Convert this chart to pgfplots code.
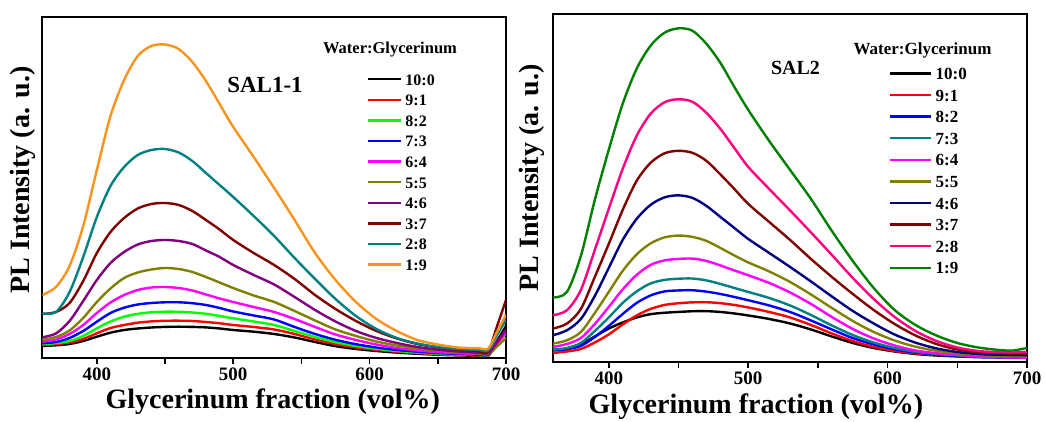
\documentclass[border=0pt]{standalone}
\usepackage{fontspec}
\setmainfont{Liberation Serif}
\usepackage{pgfplots}
\pgfplotsset{compat=1.18}
\definecolor{cRed}{RGB}{255,0,0}
\definecolor{cLime}{RGB}{0,255,0}
\definecolor{cBlue}{RGB}{0,0,255}
\definecolor{cMag}{RGB}{255,0,255}
\definecolor{cOlive}{RGB}{128,128,0}
\definecolor{cPurp}{RGB}{128,0,128}
\definecolor{cBrown}{RGB}{128,0,0}
\definecolor{cTeal}{RGB}{0,128,128}
\definecolor{cOrange}{RGB}{248,148,29}
\definecolor{cNavy}{RGB}{0,0,128}
\definecolor{cPink}{RGB}{255,0,128}
\definecolor{cGreen}{RGB}{0,128,0}
\pgfplotsset{
  cv/.style={line width=2.4pt, smooth, tension=0.5},
  plstyle/.style={
    scale only axis,
    xmin=360, xmax=700, ymin=0,
    xtick={400,500,600,700}, minor xtick={450,550,650},
    ytick=\empty, xtick pos=left,
    tick align=outside, major tick length=6pt, minor tick length=6pt,
    every tick/.style={line width=1.5pt, black},
    axis line style={line width=2pt},
    tick label style={font=\fontsize{19}{19}\selectfont\bfseries},
    /pgf/number format/assume math mode=true,
    label style={font=\fontsize{28}{28}\selectfont\bfseries},
    xlabel={Glycerinum fraction (vol\%)},
    ylabel={PL Intensity (a. u.)},
    legend cell align=left,
  }
}
\begin{document}
\begin{tikzpicture}
\useasboundingbox (0,0) rectangle (1045pt,422pt);
% ---------------- Left panel ----------------
\begin{axis}[plstyle,
  at={(42.3pt,64pt)}, anchor=south west, width=463.7pt, height=341pt, ymax=341,
  xlabel style={at={(axis description cs:0.497,0)}, anchor=base, yshift=-50.5pt},
  ylabel style={at={(axis description cs:-0.0416,0.522)}, anchor=center},
  legend style={at={(axis description cs:0.700,0.836)}, anchor=north west, draw=none, fill=none,
    inner sep=0pt, font=\fontsize{16}{16}\selectfont\bfseries, row sep=8.6pt, column sep=3pt,
    nodes={inner sep=0pt, text height=12pt, text depth=0pt}},
  legend image code/.code={\draw[#1] (0pt,0pt) -- (33pt,0pt);},
]
\addplot[cv, black] coordinates {(360,12) (370,12.7) (380,14) (390,17) (400,21.3) (410,25.3) (420,28) (430,29.5) (440,30.5) (450,31.1) (460,31.3) (470,31.1) (480,30.6) (490,29.5) (500,28) (515,26.3) (530,24) (545,20.5) (560,16) (575,11.8) (590,9) (605,7) (620,5.4) (635,4.2) (650,3.2) (665,2.6) (680,2.2) (687,2) (693,16) (700,32)};
\addlegendentry{10:0}
\addplot[cv, cRed] coordinates {(360,13) (370,13.8) (380,15.5) (390,19) (400,24.7) (410,30) (420,33) (430,35.3) (440,36.6) (450,37.2) (460,37.3) (470,37) (480,36) (490,34.7) (500,33) (515,31) (530,28.5) (545,24) (560,18.5) (575,14) (590,10.5) (605,8.2) (620,6.3) (635,5) (650,3.8) (665,3) (680,2.5) (687,2.3) (693,14) (700,28)};
\addlegendentry{9:1}
\addplot[cv, cLime] coordinates {(360,13.7) (370,14.8) (380,17) (390,22) (400,29.7) (410,36.5) (420,41.3) (430,44.2) (440,45.7) (450,46.3) (460,46.2) (470,45.5) (480,44.2) (490,42) (500,39.7) (515,36.5) (530,33) (545,27) (560,21) (575,15.8) (590,12) (605,9.2) (620,7) (635,5.5) (650,4.2) (665,3.4) (680,2.9) (687,2.7) (693,13) (700,25)};
\addlegendentry{8:2}
\addplot[cv, cBlue] coordinates {(360,14.7) (370,16) (380,20) (390,27) (400,36.3) (410,45) (420,50.3) (430,53.5) (440,55) (450,55.7) (460,55.7) (470,54.8) (480,53) (490,50) (500,46.5) (515,42.5) (530,38.5) (545,31) (560,24) (575,18.2) (590,13.8) (605,10.5) (620,8) (635,6.3) (650,4.9) (665,4) (680,3.3) (687,3) (693,14) (700,27)};
\addlegendentry{7:3}
\addplot[cv, cMag] coordinates {(360,16.3) (370,18.5) (380,24) (390,33) (400,45) (410,55.5) (420,63) (430,68) (440,70.5) (450,71) (460,70) (470,67.5) (480,63.5) (490,59.5) (500,56) (515,51) (530,46) (545,39) (560,31) (575,23.5) (590,18) (605,13.5) (620,10) (635,7.5) (650,5.8) (665,4.7) (680,4) (687,3.7) (693,14) (700,25)};
\addlegendentry{6:4}
\addplot[cv, cOlive] coordinates {(360,18) (370,21) (380,27.5) (390,40) (400,56) (410,69.5) (420,80) (430,85.5) (440,88.5) (450,90) (460,89) (470,86) (480,81) (490,75.5) (500,70) (515,62.5) (530,56) (545,47) (560,37.5) (575,28.5) (590,22) (605,16.5) (620,12.5) (635,9.5) (650,7.5) (665,6) (680,4.5) (687,4) (693,11) (700,20)};
\addlegendentry{5:5}
\addplot[cv, cPurp] coordinates {(360,20.7) (370,24.5) (380,37) (390,57) (400,78) (410,95) (420,106) (430,113.5) (440,117) (450,118) (460,117) (470,114) (480,107.5) (490,101) (500,93) (515,83) (530,73.5) (545,61) (560,48) (575,36.5) (590,27) (605,20) (620,15) (635,11) (650,8.3) (665,6.5) (680,5.2) (687,4.7) (693,15) (700,28)};
\addlegendentry{4:6}
\addplot[cv, cBrown] coordinates {(360,44) (370,46) (380,55) (390,77) (400,105) (410,126) (420,140) (430,149.5) (440,154) (450,155) (460,153) (470,147) (480,138) (490,128.5) (500,118) (515,105) (530,93) (545,79) (560,63) (575,49) (590,37) (605,27) (620,19.5) (635,14) (650,10.5) (665,8.5) (680,7) (687,6.5) (693,30) (700,58)};
\addlegendentry{3:7}
\addplot[cv, cTeal] coordinates {(360,44.5) (370,46) (380,66) (390,101) (400,141) (410,172) (420,191) (430,203) (440,208) (450,209) (460,205.5) (470,197) (480,185) (490,173) (500,161) (515,142) (530,122) (545,100) (560,79) (575,59) (590,42) (605,29) (620,20) (635,14.5) (650,11) (665,9) (680,8) (687,7.5) (693,22) (700,38)};
\addlegendentry{2:8}
\addplot[cv, cOrange] coordinates {(360,63) (370,71) (380,92) (390,132) (400,188) (410,242) (420,278) (430,302) (440,312) (450,313.5) (460,309) (470,296) (480,277) (490,254) (500,231) (515,201) (530,170) (545,138) (560,105) (575,78) (590,56) (605,39) (620,27) (635,18) (650,13.5) (665,10.5) (680,9.7) (687,9.5) (693,25) (700,43)};
\addlegendentry{1:9}
\end{axis}
% ---------------- Right panel ----------------
\begin{axis}[plstyle,
  at={(553pt,60pt)}, anchor=south west, width=474pt, height=348pt, ymax=347.7,
  xlabel style={at={(axis description cs:0.428,0)}, anchor=base, yshift=-51.5pt},
  ylabel style={at={(axis description cs:-0.0443,0.529)}, anchor=center},
  legend style={at={(axis description cs:0.707,0.848)}, anchor=north west, draw=none, fill=none,
    inner sep=0pt, font=\fontsize{17}{17}\selectfont\bfseries, row sep=9.1pt, column sep=4pt,
    nodes={inner sep=0pt, text height=12.5pt, text depth=0pt}},
  legend image code/.code={\draw[#1] (0pt,0pt) -- (41pt,0pt);},
]
\addplot[cv, black] coordinates {(360,11.7) (370,12.8) (380,17.5) (390,25.5) (400,33.4) (410,39.5) (420,44.5) (430,47.8) (440,49.2) (450,50) (460,50.7) (470,50.8) (480,50) (490,48.5) (500,46.5) (515,43) (530,38.5) (545,32.5) (560,25.5) (575,19) (590,14) (605,10.5) (620,8) (635,6.5) (650,5.6) (665,5.1) (680,5) (690,5) (700,5)};
\addlegendentry{10:0}
\addplot[cv, cRed] coordinates {(360,9) (370,10.5) (380,13) (390,19.5) (400,27.5) (410,37.5) (420,46.5) (430,53) (440,57) (450,58.7) (460,59.6) (470,59.7) (480,58.8) (490,57) (500,54.5) (515,50) (530,44.5) (545,37) (560,28.5) (575,21) (590,15) (605,11) (620,8.6) (635,7.2) (650,6.3) (665,5.8) (680,6) (690,6.3) (700,6.7)};
\addlegendentry{9:1}
\addplot[cv, cBlue] coordinates {(360,11.7) (370,13) (380,16) (390,25) (400,36) (410,48) (420,59) (430,66.5) (440,70.5) (450,71.5) (460,71.7) (470,70.3) (480,68) (490,65) (500,61.7) (515,56.5) (530,50) (545,41.5) (560,32.5) (575,24) (590,17.5) (605,12.7) (620,9.4) (635,7.3) (650,5.8) (665,4.8) (680,4.4) (690,4.4) (700,4.4)};
\addlegendentry{8:2}
\addplot[cv, cTeal] coordinates {(360,12.4) (370,14) (380,19) (390,31) (400,44.5) (410,59) (420,70.5) (430,78.5) (440,82) (450,83.2) (460,83.4) (470,81.5) (480,78) (490,74) (500,70) (515,64) (530,56.5) (545,47) (560,36.5) (575,27) (590,19.5) (605,14) (620,10.2) (635,8) (650,6.6) (665,5.6) (680,5.1) (690,5) (700,5)};
\addlegendentry{7:3}
\addplot[cv, cMag] coordinates {(360,15) (370,18) (380,24) (390,38) (400,55) (410,72.5) (420,87) (430,97) (440,101.5) (450,103) (460,103.3) (470,101) (480,96.5) (490,91.5) (500,86.7) (515,79) (530,69.5) (545,58) (560,45) (575,33) (590,23.5) (605,16.5) (620,11.5) (635,8.8) (650,7) (665,5.5) (680,4.8) (690,4.5) (700,4.4)};
\addlegendentry{6:4}
\addplot[cv, cOlive] coordinates {(360,18.4) (370,21.7) (380,30) (390,49) (400,70) (410,91) (420,107.5) (430,118.5) (440,124.5) (450,126.3) (460,125) (470,121) (480,114) (490,106.5) (500,99.5) (515,90.5) (530,80) (545,67.5) (560,54) (575,41) (590,30) (605,21.5) (620,15.3) (635,11.2) (650,8.6) (665,7) (680,6.2) (690,5.9) (700,5.7)};
\addlegendentry{5:5}
\addplot[cv, cNavy] coordinates {(360,26.7) (370,31.7) (380,43) (390,66) (400,94) (410,122) (420,143) (430,157) (440,164.5) (450,166.5) (460,164) (470,156) (480,145) (490,134) (500,123) (515,109) (530,95) (545,80.5) (560,65.5) (575,51) (590,38.5) (605,27.5) (620,19.3) (635,13.6) (650,10) (665,8) (680,7.2) (690,6.9) (700,6.7)};
\addlegendentry{4:6}
\addplot[cv, cBrown] coordinates {(360,33.4) (370,38.4) (380,53) (390,85) (400,118) (410,152) (420,181) (430,199) (440,208.5) (450,211) (460,209) (470,201) (480,187.5) (490,173) (500,158) (515,140) (530,122) (545,103) (560,85) (575,68) (590,52) (605,38) (620,26.5) (635,18) (650,12.5) (665,9.8) (680,8.8) (690,8.5) (700,8.4)};
\addlegendentry{3:7}
\addplot[cv, cPink] coordinates {(360,46.7) (370,51.7) (380,72) (390,112) (400,153) (410,193) (420,226) (430,248) (440,259.5) (450,262.5) (460,260) (470,249) (480,233) (490,214) (500,195) (515,173) (530,151.5) (545,129.5) (560,107) (575,84) (590,63) (605,45) (620,31) (635,21) (650,14.5) (665,11) (680,9.8) (690,9.5) (700,10)};
\addlegendentry{2:8}
\addplot[cv, cGreen] coordinates {(360,64.4) (370,70) (380,106) (390,162) (400,212) (410,258) (420,293) (430,316) (440,329) (450,333.4) (460,331) (470,318) (480,299) (490,275) (500,252) (515,221) (530,192) (545,163) (560,131) (575,101) (590,74) (605,52) (620,37) (635,26.5) (650,19) (665,14.5) (680,12) (690,11.5) (700,14)};
\addlegendentry{1:9}
\end{axis}
% ---------------- Text annotations ----------------
\node[font=\fontsize{16.5}{16.5}\selectfont\bfseries] at (390pt,372pt) {Water:Glycerinum};
\node[font=\fontsize{17}{17}\selectfont\bfseries] at (922.5pt,372pt) {Water:Glycerinum};
\node[font=\fontsize{23}{23}\selectfont\bfseries] at (265pt,337pt) {SAL1-1};
\node[font=\fontsize{20}{20}\selectfont\bfseries] at (795.5pt,354pt) {SAL2};
\end{tikzpicture}
\end{document}
